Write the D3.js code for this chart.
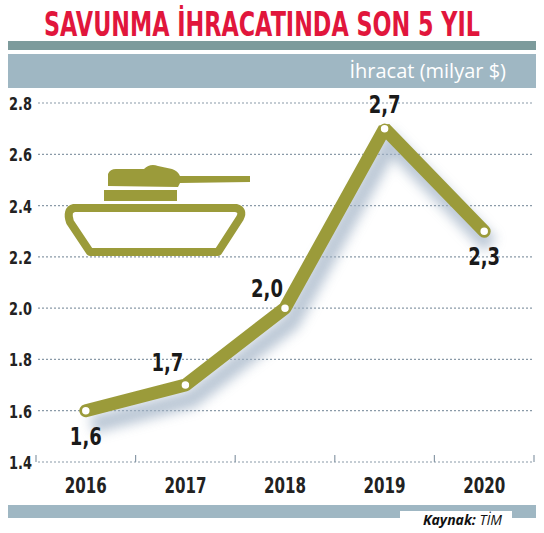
<!DOCTYPE html>
<html><head><meta charset="utf-8">
<script src="https://cdn.jsdelivr.net/npm/d3@7"></script>
<style>body{margin:0;background:#fff}</style>
</head><body>
<svg id="chart" width="544" height="533"></svg>
<script>
const years = ["2016", "2017", "2018", "2019", "2020"];
const values = [1.6, 1.7, 2.0, 2.7, 2.3];
const valueLabels = ["1,6", "1,7", "2,0", "2,7", "2,3"];
const yTicks = [1.4, 1.6, 1.8, 2.0, 2.2, 2.4, 2.6, 2.8];

const svg = d3.select("#chart");
const cond = "'DejaVu Sans'";
const olive = "#9b9b3a";
const sx = 0.72; // horizontal squeeze to fake a condensed face

svg.append("text").attr("x", 262).attr("y", 36).attr("text-anchor", "middle")
  .attr("font-family", cond).attr("font-weight", "bold")
  .attr("font-size", 33).attr("fill", "#e1163c").attr("textLength", 436).attr("lengthAdjust", "spacingAndGlyphs")
  .text("SAVUNMA İHRACATINDA SON 5 YIL");

svg.append("rect").attr("x", 8).attr("y", 41).attr("width", 528).attr("height", 9).attr("fill", "#7d9b9c");
svg.append("rect").attr("x", 8).attr("y", 54).attr("width", 528).attr("height", 34).attr("fill", "#9fb7c3");
svg.append("text").attr("x", 506).attr("y", 78).attr("text-anchor", "end")
  .attr("font-family", "'Open Sans'").attr("font-size", 20).attr("fill", "#fff").text("İhracat (milyar $)");

const x = d3.scaleBand().domain(years).range([36, 534]);
const y = d3.scaleLinear().domain([1.4, 2.8]).range([462, 103]);

// grid
svg.append("g").selectAll("line").data(yTicks).join("line")
  .attr("x1", 38).attr("x2", 534).attr("y1", d => y(d)).attr("y2", d => y(d))
  .attr("stroke", "#8a9aa8").attr("stroke-width", 1.2).attr("stroke-dasharray", "2,2");
svg.append("g").selectAll("text").data(yTicks).join("text")
  .attr("transform", d => `translate(9,${y(d) + 7}) scale(${sx},1)`)
  .attr("font-family", cond).attr("font-weight", "bold")
  .attr("font-size", 18).attr("fill", "#222").text(d => d.toFixed(1));

// x axis
const xAxis = svg.append("g").attr("transform", `translate(0,${y(1.4)})`)
  .call(d3.axisBottom(x).tickSize(0).tickPadding(16));
xAxis.select(".domain").remove();
xAxis.selectAll("text").attr("font-family", cond).attr("transform", `scale(${sx},1)`)
  .attr("font-weight", "bold").attr("font-size", 21).attr("fill", "#222");
const edges = years.map(d => x(d)).concat([x.range()[1]]);
svg.append("g").selectAll("line").data(edges).join("line")
  .attr("x1", d => d).attr("x2", d => d).attr("y1", y(1.4) - 7).attr("y2", y(1.4))
  .attr("stroke", "#8a9aa8").attr("stroke-width", 1.2);

// tank
const tank = svg.append("g").attr("fill", olive);
tank.append("path").attr("d", "M108,186 L108,174 Q110,169 116,169 L144,169 Q150,163 158,166 L172,169 Q178,171 180,176 L250,176 L250,182 L180,183 L178,187 Z");
tank.append("rect").attr("x", 104).attr("y", 190).attr("width", 73).attr("height", 11);
tank.append("path").attr("d", "M74,208 L236,208 Q244,210 240,218 L218,252 L90,252 L70,222 Q66,210 74,208 Z")
  .attr("fill", "none").attr("stroke", olive).attr("stroke-width", 8).attr("stroke-linejoin", "round");

const cx = d => x(d) + x.bandwidth() / 2;
const pts = years.map((d, i) => [cx(d), y(values[i])]);

// shadow
const defs = svg.append("defs");
defs.append("filter").attr("id", "blur").append("feGaussianBlur").attr("stdDeviation", 6);
svg.append("path").attr("d", d3.line()(pts.map(p => [p[0] + 6, p[1] + 14])))
  .attr("fill", "none").attr("stroke", "#9fb0c4").attr("stroke-width", 18).attr("opacity", 0.7)
  .attr("filter", "url(#blur)");

svg.append("path").attr("d", d3.line()(pts)).attr("fill", "none")
  .attr("stroke", olive).attr("stroke-width", 13).attr("stroke-linejoin", "bevel").attr("stroke-linecap", "round");
svg.append("g").selectAll("circle").data(pts).join("circle")
  .attr("cx", d => d[0]).attr("cy", d => d[1]).attr("r", 4.5)
  .attr("fill", "#fff").attr("stroke", olive).attr("stroke-width", 1.5);

const off = [[0, 34], [-18, -14], [-18, -11], [0, -16], [0, 34]];
svg.append("g").selectAll("text").data(pts).join("text")
  .attr("transform", (d, i) => `translate(${d[0] + off[i][0]},${d[1] + off[i][1]}) scale(${sx},1)`)
  .attr("text-anchor", "middle").attr("font-family", cond)
  .attr("font-weight", "bold").attr("font-size", 25).attr("fill", "#1a1a1a")
  .text((d, i) => valueLabels[i]);

// source band
svg.append("rect").attr("x", 8).attr("y", 505).attr("width", 528).attr("height", 13).attr("fill", "#9fb7c3");
svg.append("rect").attr("x", 400).attr("y", 511).attr("width", 112).attr("height", 20).attr("fill", "#fff");
svg.append("text").attr("x", 502).attr("y", 525).attr("text-anchor", "end")
  .attr("font-family", "'Open Sans'").attr("font-style", "italic").attr("font-size", 14).attr("fill", "#111")
  .html('<tspan font-weight="bold">Kaynak:</tspan> TİM');
</script>
</body></html>
